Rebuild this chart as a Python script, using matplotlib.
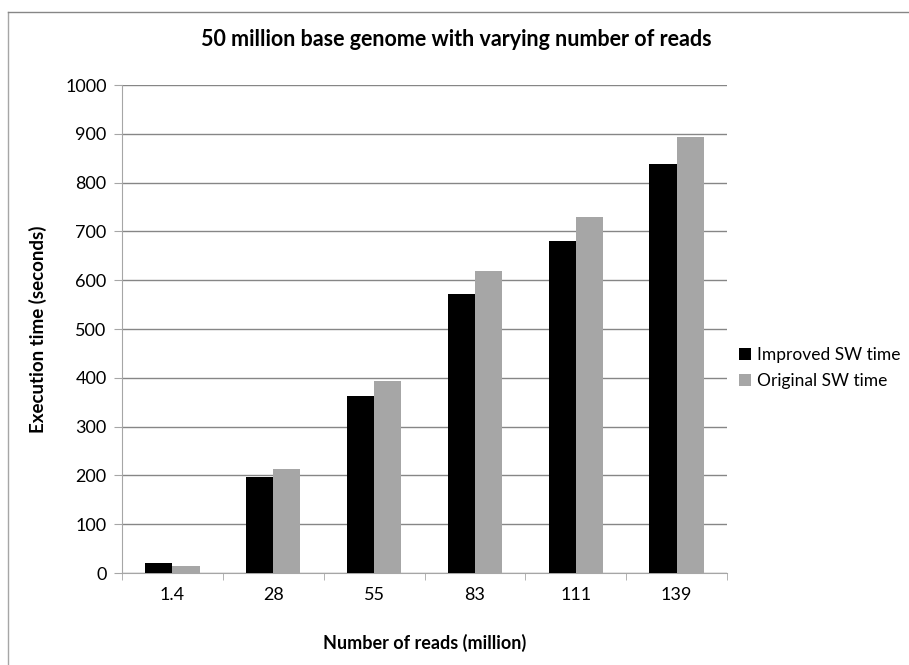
import matplotlib
matplotlib.use("Agg")
import matplotlib.pyplot as plt
import numpy as np
from matplotlib.lines import Line2D

categories = ["1.4", "28", "55", "83", "111", "139"]
improved = [20, 197, 363, 572, 680, 838]
original = [15, 213, 393, 618, 730, 893]
yticks = list(range(0, 1001, 100))

plt.rcParams['font.family'] = ['Lato', 'DejaVu Sans']

fig = plt.figure(figsize=(9.09, 6.65), dpi=100)
# chart-area frame (only top and left edges visible in the crop)
fig.lines.append(Line2D([8/909, 8/909], [0, 1-12/665], transform=fig.transFigure,
                        color='#a6a6a6', linewidth=1.0))
fig.lines.append(Line2D([8/909, 1], [1-12/665, 1-12/665], transform=fig.transFigure,
                        color='#868686', linewidth=1.0))

ax = fig.add_axes([122/909, 1-573/665, 605/909, 488/665])

x = np.arange(len(categories))
w = 0.27
ax.bar(x - w/2, improved, w, color='black', label='Improved SW time', zorder=3)
ax.bar(x + w/2, original, w, color='#a6a6a6', label='Original SW time', zorder=3)

ax.set_xlim(-0.5, len(categories) - 0.5)
ax.set_ylim(0, 1000)
ax.set_yticks(yticks)
ax.set_yticklabels([str(v) for v in yticks], fontsize=13)
ax.set_xticks(x)
ax.set_xticklabels(categories, fontsize=13)
ax.set_xticks(np.arange(-0.5, len(categories), 1), minor=True)
ax.tick_params(axis='x', which='major', length=0, pad=10)
ax.tick_params(axis='x', which='minor', length=5, color='#a6a6a6')
ax.tick_params(axis='y', length=6, color='#a6a6a6', pad=5)
ax.yaxis.grid(True, color='#868686', linewidth=1.0, zorder=0)
for s in ['top', 'right']:
    ax.spines[s].set_visible(False)
for s in ['left', 'bottom']:
    ax.spines[s].set_color('#a6a6a6')

fig.text(456/909, 1-40/665, '50 million base genome with varying number of reads',
         fontsize=15.5, fontweight='bold', ha='center', va='center')
ax.set_xlabel('Number of reads (million)', fontsize=13, fontweight='bold', labelpad=22)
ax.set_ylabel('Execution time (seconds)', fontsize=13.5, fontweight='bold')
ax.yaxis.set_label_coords(-(122-47)/605, 0.5)

ax.legend(loc='center left', bbox_to_anchor=(1.0, 0.42), frameon=False, fontsize=12.5,
          handlelength=0.7, handleheight=0.7, handletextpad=0.3, labelspacing=0.6,
          borderaxespad=0.3)

fig.savefig('out.png', dpi=100)
